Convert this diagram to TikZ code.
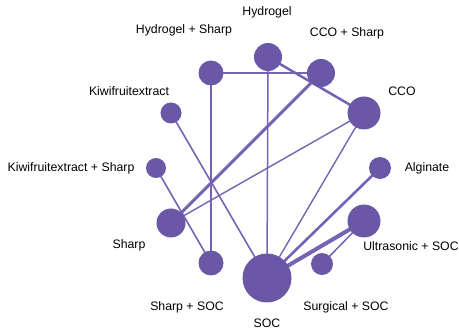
\documentclass[tikz,border=0pt]{standalone}
\usepackage{fontspec}
\setmainfont{Liberation Sans}
\definecolor{nodec}{HTML}{6A57A6}
\definecolor{edgec}{HTML}{7563B3}
\begin{document}
\begin{tikzpicture}[x=1pt,y=-1pt,
  nd/.style={circle,fill=nodec,inner sep=0pt,minimum size=#1},
  lbl/.style={font=\fontsize{12.3}{14}\selectfont,inner sep=0pt,text=black},
  ed/.style={draw=edgec,line width=#1}]
\useasboundingbox (0,0) rectangle (459,329);
% edges first
\coordinate (cHyd) at (268,57);
\coordinate (cCCOS) at (321,73);
\coordinate (cCCO) at (364,113);
\coordinate (cHydS) at (211,73);
\coordinate (cKiwi) at (171,113);
\coordinate (cKiwiS) at (156,168);
\coordinate (cSharp) at (171,223);
\coordinate (cSharpSOC) at (211,263);
\coordinate (cSOC) at (267,278);
\coordinate (cSurg) at (322,264);
\coordinate (cUltra) at (364,221);
\coordinate (cAlg) at (380,168);
\draw[ed=1.5] (cHydS) -- (cCCOS);
\draw[ed=1.8] (cHydS) -- (cSharpSOC);
\draw[ed=1.5] (cHyd) -- (cSOC);
\draw[ed=2.5] (cHyd) -- (cCCO);
\draw[ed=3] (cCCOS) -- (cSharp);
\draw[ed=1.4] (cCCO) -- (cSharp);
\draw[ed=1.4] (cCCO) -- (cSOC);
\draw[ed=1.6] (cKiwi) -- (cSOC);
\draw[ed=1.6] (cKiwiS) -- (cSharpSOC);
\draw[ed=2.6] (cAlg) -- (cSOC);
\draw[ed=4] (cUltra) -- (cSOC);
\draw[ed=1.5] (cSurg) -- (cUltra);
% nodes
\node[nd=28] (Hyd) at (cHyd) {};
\node[nd=28] (CCOS) at (cCCOS) {};
\node[nd=33] (CCO) at (cCCO) {};
\node[nd=25] (HydS) at (cHydS) {};
\node[nd=21] (Kiwi) at (cKiwi) {};
\node[nd=20] (KiwiS) at (cKiwiS) {};
\node[nd=29] (Sharp) at (cSharp) {};
\node[nd=25] (SharpSOC) at (cSharpSOC) {};
\node[nd=49] (SOC) at (cSOC) {};
\node[nd=22] (Surg) at (cSurg) {};
\node[nd=33] (Ultra) at (cUltra) {};
\node[nd=22] (Alg) at (cAlg) {};
% labels
\node[lbl] (lHyd) at (267,12) {Hydrogel};
\node[lbl] (lCCOS) at (347,33) {CCO + Sharp};
\node[lbl] (lCCO) at (402,91) {CCO};
\node[lbl] (lHydS) at (184,30) {Hydrogel + Sharp};
\node[lbl] (lKiwi) at (129,91) {Kiwifruitextract};
\node[lbl] (lKiwiS) at (71,168) {Kiwifruitextract + Sharp};
\node[lbl] (lSharp) at (129,245) {Sharp};
\node[lbl] (lSharpSOC) at (187,307) {Sharp + SOC};
\node[lbl] (lSOC) at (267,323.5) {SOC};
\node[lbl] (lSurg) at (346,307) {Surgical + SOC};
\node[lbl] (lUltra) at (411,246) {Ultrasonic + SOC};
\node[lbl] (lAlg) at (427,168) {Alginate};
\end{tikzpicture}
\end{document}
